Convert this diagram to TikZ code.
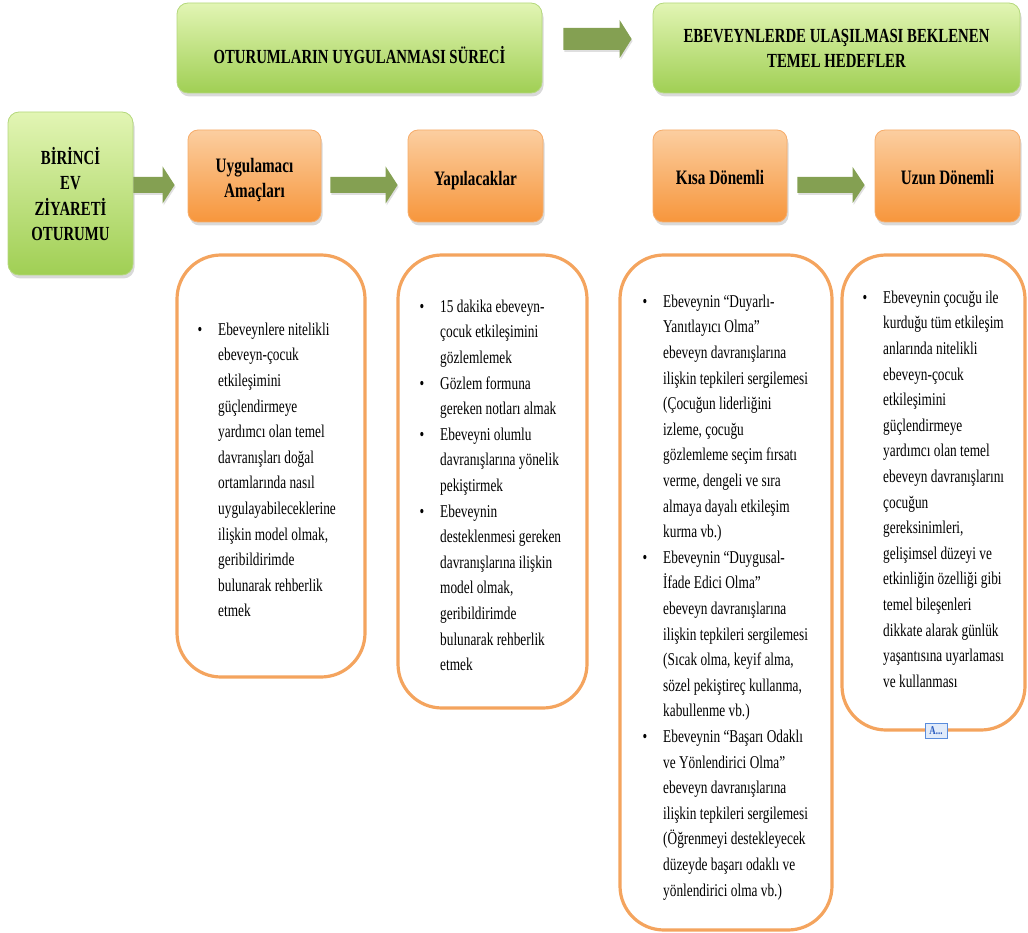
\documentclass[tikz,border=0pt]{standalone}
\usepackage{fontspec}
\setmainfont{Liberation Serif}[FakeStretch=0.74]
\usetikzlibrary{shadows,calc}
\definecolor{gtop}{RGB}{226,245,180}
\definecolor{gbot}{RGB}{160,207,84}
\definecolor{gline}{RGB}{180,216,124}
\definecolor{otop}{RGB}{251,206,160}
\definecolor{obot}{RGB}{247,150,60}
\definecolor{oline}{RGB}{246,172,106}
\definecolor{tline}{RGB}{244,164,94}
\definecolor{arrc}{RGB}{132,160,82}
\newcommand{\bul}{\llap{•\hspace{16pt}}}
\newcommand{\blockarrow}[4]{%
  \fill[arrc, drop shadow={shadow xshift=1pt,shadow yshift=-2pt,opacity=0.25}]
    ($(#1)+(0,#3)$) -- ($(#2)+(-12,#3)$) -- ($(#2)+(-12,#4)$) -- (#2)
    -- ($(#2)+(-12,-#4)$) -- ($(#2)+(-12,-#3)$) -- ($(#1)+(0,-#3)$) -- cycle;}
\tikzset{
  shad/.style={drop shadow={shadow xshift=1.5pt,shadow yshift=-3.5pt,opacity=0.3}},
  gbox/.style={shad, draw=gline, line width=0.8pt, rounded corners=11pt,
    top color=gtop, bottom color=gbot, inner sep=0pt},
  obox/.style={shad, draw=oline, line width=0.8pt, rounded corners=10pt,
    top color=otop, bottom color=obot, inner sep=0pt},
  tbox/.style={draw=tline, line width=3.2pt, rounded corners=44pt, fill=white, inner sep=0pt},
  hfont/.style={font=\bfseries\fontsize{20}{25}\selectfont},
  ofont/.style={font=\bfseries\fontsize{20.5}{25}\selectfont},
  btext/.style={font=\fontsize{18}{25.6}\selectfont, align=left, inner sep=0pt, anchor=north west, text=black},
}
\begin{document}
\begin{tikzpicture}[x=1pt,y=-1pt]
\useasboundingbox (0,0) rectangle (1028,933);
% headers
\node[gbox, minimum width=365, minimum height=90] (h1) at (359.5,48) {};
\node[hfont, anchor=base] (h1t) at (359.5,64) {OTURUMLARIN UYGULANMASI SÜRECİ};
\node[gbox, minimum width=367, minimum height=90] (h2) at (836.5,48) {};
\node[hfont, align=center] (h2t) at (836.5,48) {EBEVEYNLERDE ULAŞILMASI BEKLENEN\\TEMEL HEDEFLER};
% left box
\node[gbox, minimum width=125, minimum height=163] (L) at (70.5,193.5) {};
\node[hfont, align=center, font=\bfseries\fontsize{20}{25.6}\selectfont] (Lt) at (70.5,194) {BİRİNCİ\\EV\\ZİYARETİ\\OTURUMU};
% orange boxes
\node[obox, minimum width=133, minimum height=92] (o1) at (254.5,176) {};
\node[ofont, align=center] (o1t) at (254.5,180) {Uygulamacı\\Amaçları};
\node[obox, minimum width=135, minimum height=92] (o2) at (475.5,176) {};
\node[ofont, anchor=base] (o2t) at (475.5,186) {Yapılacaklar};
\node[obox, minimum width=134, minimum height=92] (o3) at (720,176) {};
\node[ofont, anchor=base] (o3t) at (720,185) {Kısa Dönemli};
\node[obox, minimum width=145, minimum height=92] (o4) at (947.5,176) {};
\node[ofont, anchor=base] (o4t) at (947.5,185) {Uzun Dönemli};
% block arrows
\coordinate (a0s) at ($(h1.east)+(21,-9)$);
\coordinate (a0e) at ($(h2.west)+(-21,-9)$);
\blockarrow{a0s}{a0e}{11}{19}
\coordinate (a1s) at ($(L.east)+(0,-8.5)$);
\coordinate (a1e) at ($(o1.west)+(-13,9)$);
\blockarrow{a1s}{a1e}{8}{18.5}
\coordinate (a2s) at ($(o1.east)+(9,9)$);
\coordinate (a2e) at ($(o2.west)+(-10,9)$);
\blockarrow{a2s}{a2e}{8}{18.5}
\coordinate (a3s) at ($(o3.east)+(10,9)$);
\coordinate (a3e) at ($(o4.west)+(-10,9)$);
\blockarrow{a3s}{a3e}{8}{18}
% text boxes
\node[tbox, minimum width=188, minimum height=422] (t1) at (271,466) {};
\node[tbox, minimum width=189, minimum height=453] (t2) at (492.5,481.5) {};
\node[tbox, minimum width=212, minimum height=675] (t3) at (726,592.5) {};
\node[tbox, minimum width=183, minimum height=475] (t4) at (933.5,492.5) {};
\node[btext] (x1) at (218,321) {\rule{0pt}{14pt}\bul Ebeveynlere nitelikli\\
ebeveyn-çocuk\\
etkileşimini\\
güçlendirmeye\\
yardımcı olan temel\\
davranışları doğal\\
ortamlarında nasıl\\
uygulayabileceklerine\\
ilişkin model olmak,\\
geribildirimde\\
bulunarak rehberlik\\
etmek};
\node[btext] (x2) at (440,298) {\rule{0pt}{14pt}\bul 15 dakika ebeveyn-\\
çocuk etkileşimini\\
gözlemlemek\\
\bul Gözlem formuna\\
gereken notları almak\\
\bul Ebeveyni olumlu\\
davranışlarına yönelik\\
pekiştirmek\\
\bul Ebeveynin\\
desteklenmesi gereken\\
davranışlarına ilişkin\\
model olmak,\\
geribildirimde\\
bulunarak rehberlik\\
etmek};
\node[btext] (x3) at (663,293) {\rule{0pt}{14pt}\bul Ebeveynin “Duyarlı-\\
Yanıtlayıcı Olma”\\
ebeveyn davranışlarına\\
ilişkin tepkileri sergilemesi\\
(Çocuğun liderliğini\\
izleme, çocuğu\\
gözlemleme seçim fırsatı\\
verme, dengeli ve sıra\\
almaya dayalı etkileşim\\
kurma vb.)\\
\bul Ebeveynin “Duygusal-\\
İfade Edici Olma”\\
ebeveyn davranışlarına\\
ilişkin tepkileri sergilemesi\\
(Sıcak olma, keyif alma,\\
sözel pekiştireç kullanma,\\
kabullenme vb.)\\
\bul Ebeveynin “Başarı Odaklı\\
ve Yönlendirici Olma”\\
ebeveyn davranışlarına\\
ilişkin tepkileri sergilemesi\\
(Öğrenmeyi destekleyecek\\
düzeyde başarı odaklı ve\\
yönlendirici olma vb.)};
\node[btext] (x4) at (883,289) {\rule{0pt}{14pt}\bul Ebeveynin çocuğu ile\\
kurduğu tüm etkileşim\\
anlarında nitelikli\\
ebeveyn-çocuk\\
etkileşimini\\
güçlendirmeye\\
yardımcı olan temel\\
ebeveyn davranışlarını\\
çocuğun\\
gereksinimleri,\\
gelişimsel düzeyi ve\\
etkinliğin özelliği gibi\\
temel bileşenleri\\
dikkate alarak günlük\\
yaşantısına uyarlaması\\
ve kullanması};
% anchor icon
\node[draw={rgb,255:red,90;green,140;blue,220}, fill={rgb,255:red,225;green,235;blue,250}, line width=0.8pt,
  minimum width=22, minimum height=15, inner sep=0pt,
  font=\bfseries\fontsize{12}{12}\selectfont, text={rgb,255:red,40;green,90;blue,190}] (anc) at (936,730.5) {A...};
\end{tikzpicture}
\end{document}
